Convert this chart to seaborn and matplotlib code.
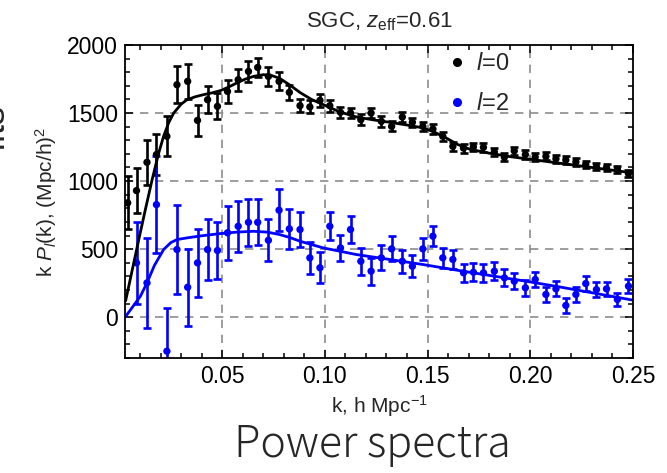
import numpy as np
import pandas as pd
import matplotlib
matplotlib.use("Agg")
import matplotlib.pyplot as plt
from matplotlib.ticker import MultipleLocator, FixedLocator
from matplotlib.lines import Line2D
import seaborn as sns

# ---- data ----
k_mono = [0.004, 0.0083, 0.0134, 0.018, 0.0231, 0.028, 0.0332, 0.038, 0.0429, 0.0477,
          0.0526, 0.0578, 0.0628, 0.0673, 0.0725, 0.0777, 0.0827, 0.0879, 0.0927, 0.0976,
          0.1024, 0.1076, 0.1125, 0.1175, 0.1225, 0.1275, 0.1325, 0.1377, 0.1426, 0.1477,
          0.1526, 0.1574, 0.1623, 0.1675, 0.1723, 0.1772, 0.1825, 0.1874, 0.1922, 0.1976,
          0.2024, 0.2076, 0.2125, 0.2173, 0.2222, 0.2270, 0.2322, 0.2371, 0.2424, 0.2478]
p_mono = [840, 930, 1138, 1195, 1329, 1708, 1733, 1446, 1598, 1549,
          1659, 1745, 1806, 1835, 1769, 1733, 1652, 1554, 1545, 1593,
          1554, 1505, 1500, 1451, 1500, 1439, 1402, 1471, 1432, 1402,
          1383, 1329, 1255, 1242, 1252, 1248, 1215, 1175, 1222, 1195,
          1176, 1182, 1164, 1155, 1141, 1123, 1106, 1099, 1086, 1055]
e_mono = [195, 165, 167, 150, 147, 137, 130, 112, 100, 95,
          85, 82, 75, 72, 67, 65, 57, 50, 48, 46,
          44, 42, 40, 40, 38, 38, 36, 36, 35, 34,
          34, 33, 32, 32, 31, 31, 30, 30, 30, 30,
          29, 29, 29, 28, 28, 28, 28, 27, 27, 27]

k_quad = [0.0083, 0.0134, 0.018, 0.0231, 0.028, 0.0332, 0.038, 0.0429, 0.0477,
          0.0526, 0.0578, 0.0628, 0.0673, 0.0725, 0.0777, 0.0827, 0.0879, 0.0927, 0.0976,
          0.1024, 0.1076, 0.1125, 0.1175, 0.1225, 0.1275, 0.1325, 0.1377, 0.1426, 0.1477,
          0.1526, 0.1574, 0.1623, 0.1675, 0.1723, 0.1772, 0.1825, 0.1874, 0.1922, 0.1976,
          0.2024, 0.2076, 0.2125, 0.2173, 0.2222, 0.2270, 0.2322, 0.2371, 0.2424, 0.2478]
p_quad = [399, 252, 827, -250, 497, 220, 399, 497, 490,
          620, 668, 697, 697, 565, 786, 649, 644, 436, 363,
          668, 509, 644, 411, 338, 436, 502, 411, 374, 502,
          595, 436, 424, 326, 330, 326, 338, 289, 264, 216,
          277, 167, 208, 86, 167, 247, 203, 208, 130, 228]
e_quad = [300, 330, 355, 320, 327, 283, 250, 222, 210,
          200, 187, 174, 170, 155, 156, 145, 128, 118, 115,
          104, 98, 97, 98, 98, 92, 92, 83, 82, 80,
          73, 73, 73, 68, 67, 65, 64, 62, 60, 60,
          58, 57, 56, 55, 54, 53, 52, 51, 50, 50]

k_model0 = [0.003, 0.0094, 0.0126, 0.0159, 0.019, 0.0215, 0.024, 0.0264, 0.030, 0.0329,
            0.037, 0.0409, 0.045, 0.049, 0.053, 0.0571, 0.061, 0.0652, 0.070, 0.074,
            0.078, 0.083, 0.088, 0.0935, 0.0992, 0.107, 0.1154, 0.1235, 0.1316, 0.140,
            0.1477, 0.153, 0.159, 0.1645, 0.1704, 0.180, 0.190, 0.200, 0.210, 0.220,
            0.230, 0.240, 0.250]
p_model0 = [120, 570, 790, 1010, 1200, 1330, 1430, 1500, 1565, 1598,
            1620, 1635, 1648, 1664, 1690, 1721, 1748, 1769, 1782, 1776,
            1755, 1705, 1650, 1600, 1562, 1510, 1471, 1450, 1432, 1412,
            1391, 1362, 1317, 1270, 1235, 1205, 1180, 1160, 1140, 1120,
            1100, 1080, 1060]

k_model2 = [0.003, 0.0102, 0.0134, 0.017, 0.0215, 0.025, 0.028, 0.033, 0.040, 0.049,
            0.057, 0.0652, 0.072, 0.078, 0.083, 0.0879, 0.0992, 0.1154, 0.1316, 0.1477,
            0.1672, 0.1979, 0.214, 0.250]
p_model2 = [5, 154, 252, 380, 497, 548, 570, 583, 598, 614,
            625, 631, 625, 607, 585, 558, 509, 460, 424, 387,
            338, 264, 223, 125]

x_ticks = [0.05, 0.10, 0.15, 0.20, 0.25]
x_ticklabels = ["0.05", "0.10", "0.15", "0.20", "0.25"]
y_ticks = [0, 500, 1000, 1500, 2000]
y_ticklabels = ["0", "500", "1000", "1500", "2000"]
legend_labels = [r"$l$=0", r"$l$=2"]

BLUE = "#0000ff"
BLACK = "#000000"

# ---- style ----
sns.set_theme(style="ticks")
plt.rcParams["font.family"] = ["Liberation Sans", "DejaVu Sans"]
plt.rcParams["mathtext.fontset"] = "custom"
plt.rcParams["mathtext.rm"] = "Liberation Sans"
plt.rcParams["mathtext.it"] = "Liberation Sans:italic"
plt.rcParams["mathtext.bf"] = "Liberation Sans:bold"

fig = plt.figure(figsize=(6.67, 4.73), dpi=100)
ax = fig.add_axes([125 / 667, 1 - 358 / 473, 508 / 667, 313 / 473])

df_m0 = pd.DataFrame({"k": k_model0, "P": p_model0})
df_m2 = pd.DataFrame({"k": k_model2, "P": p_model2})
df0 = pd.DataFrame({"k": k_mono, "P": p_mono, "err": e_mono})
df2 = pd.DataFrame({"k": k_quad, "P": p_quad, "err": e_quad})

# grid
for xv in x_ticks[:-1]:
    ax.axvline(xv, color="#8c8c8c", lw=1.2, ls=(0, (5, 4)), zorder=0)
for yv in y_ticks[:-1]:
    ax.axhline(yv, color="#8c8c8c", lw=1.2, ls=(0, (5, 4)), zorder=0)

# error bars
ax.errorbar(df0["k"], df0["P"], yerr=df0["err"], fmt="none", ecolor=BLACK,
            elinewidth=1.9, capsize=3.2, capthick=1.9, zorder=3)
ax.errorbar(df2["k"], df2["P"], yerr=df2["err"], fmt="none", ecolor=BLUE,
            elinewidth=1.9, capsize=3.2, capthick=1.9, zorder=3)

# points
sns.scatterplot(data=df0, x="k", y="P", color=BLACK, s=28, edgecolor="none", ax=ax, zorder=4)
sns.scatterplot(data=df2, x="k", y="P", color=BLUE, s=28, edgecolor="none", ax=ax, zorder=4)

# model curves
sns.lineplot(data=df_m0, x="k", y="P", color=BLACK, lw=2, ax=ax, sort=True, zorder=5)
sns.lineplot(data=df_m2, x="k", y="P", color=BLUE, lw=2, ax=ax, sort=True, zorder=5)

ax.set_xlim(0.0027, 0.25)
ax.set_ylim(-300, 2000)

ax.xaxis.set_major_locator(FixedLocator(x_ticks))
ax.set_xticklabels(x_ticklabels)
ax.xaxis.set_minor_locator(MultipleLocator(0.01))
ax.yaxis.set_major_locator(FixedLocator(y_ticks))
ax.set_yticklabels(y_ticklabels)
ax.yaxis.set_minor_locator(MultipleLocator(100))
ax.tick_params(which="both", direction="in", top=True, right=True, colors="black",
               labelsize=16.5, width=1.1)
ax.tick_params(which="major", length=6, pad=5)
ax.tick_params(which="minor", length=3.5)
for sp in ax.spines.values():
    sp.set_linewidth(1.3)
    sp.set_color("black")
    sp.set_zorder(6)

ax.set_xlabel(r"k, h Mpc$^{-1}$", fontsize=15, labelpad=4)
ax.set_ylabel(r"k $P_{l}$(k), (Mpc/h)$^{2}$", fontsize=15, labelpad=6)
ax.set_title(r"SGC, $z_{\mathrm{eff}}$=0.61", fontsize=16, pad=13)

# legend
handles = [Line2D([], [], marker="o", ls="none", color=BLACK, markersize=5.5),
           Line2D([], [], marker="o", ls="none", color=BLUE, markersize=5.5)]
ax.legend(handles, legend_labels, loc="upper left", bbox_to_anchor=(0.588, 1.043),
          frameon=False, fontsize=17, handletextpad=0.3, labelspacing=0.78,
          handlelength=1.0)

fig.text(372 / 667, 1 - 457 / 473, "Power spectra", fontsize=31, ha="center", va="baseline",
         fontweight="light", family=["Noto Sans CJK JP", "DejaVu Sans"])
fig.text(0.018, 1 - 105 / 473, "fits", fontsize=26, rotation=90, ha="right", va="top")

fig.savefig("out.png", dpi=100)
